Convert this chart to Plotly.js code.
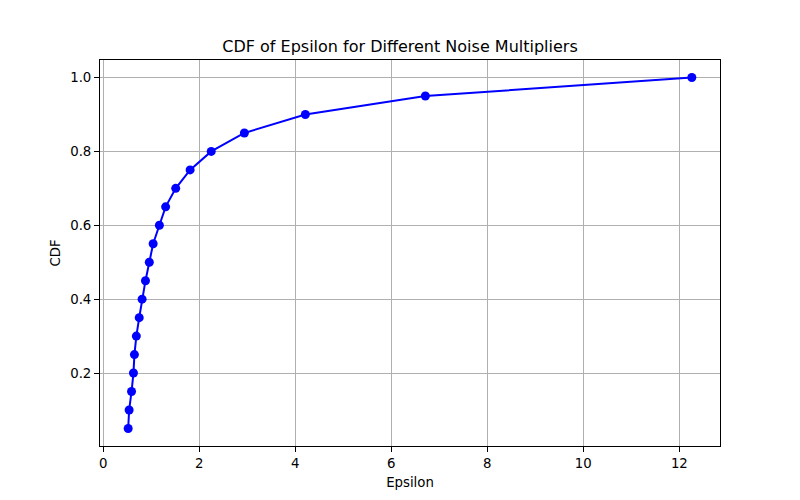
<!DOCTYPE html>
<html>
<head>
<meta charset="utf-8">
<script src="https://cdn.plot.ly/plotly-3.0.1.min.js"></script>
<style>html,body{margin:0;padding:0;background:#fff;}</style>
</head>
<body>
<div id="chart" style="width:800px;height:500px;"></div>
<script>
const epsilon = [0.52, 0.54, 0.59, 0.63, 0.65, 0.69, 0.75, 0.81, 0.88, 0.96, 1.04, 1.17, 1.30, 1.51, 1.81, 2.25, 2.94, 4.21, 6.71, 12.26];
const cdf = [0.05, 0.10, 0.15, 0.20, 0.25, 0.30, 0.35, 0.40, 0.45, 0.50, 0.55, 0.60, 0.65, 0.70, 0.75, 0.80, 0.85, 0.90, 0.95, 1.00];
const xTicks = [0, 2, 4, 6, 8, 10, 12];
const yTicks = [0.2, 0.4, 0.6, 0.8, 1.0];

const font = {family: 'DejaVu Sans', size: 13.3, color: '#000'};
const axisCommon = {
  showline: true, mirror: true, linecolor: '#000', linewidth: 1,
  ticks: 'outside', ticklen: 5, tickwidth: 1, tickcolor: '#000',
  showgrid: true, gridcolor: '#b0b0b0', gridwidth: 1, zeroline: false,
  tickfont: font
};
const xmin = Math.min(...epsilon), xmax = Math.max(...epsilon);
const ymin = Math.min(...cdf), ymax = Math.max(...cdf);
const xpad = 0.05 * (xmax - xmin), ypad = 0.05 * (ymax - ymin);

Plotly.newPlot('chart', [{
  x: epsilon, y: cdf, type: 'scatter', mode: 'lines+markers',
  line: {color: '#0000ff', width: 2},
  marker: {color: '#0000ff', size: 9},
  showlegend: false
}], {
  width: 800, height: 500,
  paper_bgcolor: '#fff', plot_bgcolor: '#fff',
  margin: {l: 100, r: 80, t: 60, b: 54},
  font: font,
  title: {text: 'CDF of Epsilon for Different Noise Multipliers', font: {family: 'DejaVu Sans', size: 16, color: '#000'}, x: 0.5, xanchor: 'center', y: 1 - 46/500, yanchor: 'middle'},
  xaxis: Object.assign({}, axisCommon, {
    range: [xmin - xpad, xmax + xpad], tickvals: xTicks, ticktext: xTicks.map(String),
    title: {text: 'Epsilon', font: font, standoff: 7}
  }),
  yaxis: Object.assign({}, axisCommon, {
    range: [ymin - ypad, ymax + ypad], tickvals: yTicks, ticktext: yTicks.map(v => v.toFixed(1)),
    title: {text: 'CDF', font: font, standoff: 6}
  })
}, {staticPlot: true});
</script>
</body>
</html>
